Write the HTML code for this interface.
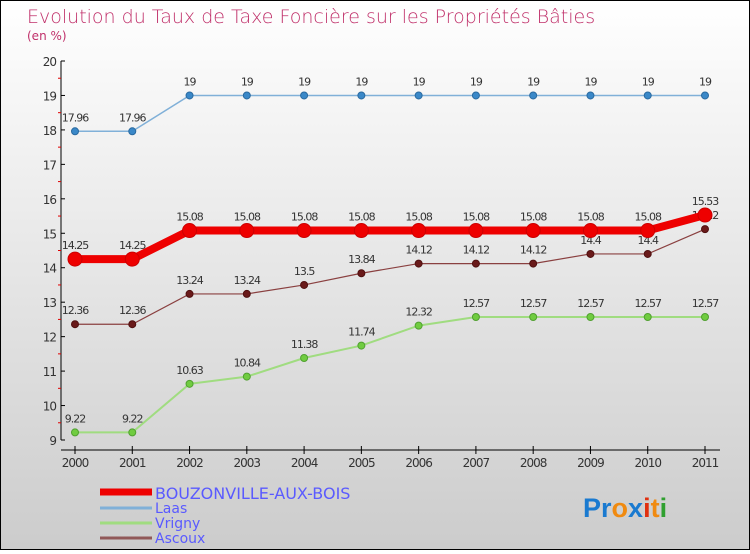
<!DOCTYPE html>
<html><head><meta charset="utf-8"><style>
body{margin:0}
#c{width:750px;height:550px;position:relative;font-family:"DejaVu Sans","Liberation Sans",sans-serif}
</style></head><body>
<div id="c">
<svg id="s" width="750" height="550" xmlns="http://www.w3.org/2000/svg">
<defs><linearGradient id="bg" x1="0" y1="0" x2="0" y2="1"><stop offset="0" stop-color="#ffffff"/><stop offset="1" stop-color="#cccccc"/></linearGradient></defs>
<rect x="0.5" y="0.5" width="749" height="549" fill="url(#bg)" stroke="#000"/>
<text x="27" y="23" font-size="19" fill="#c0306a" font-weight="200">Evolution du Taux de Taxe Foncière sur les Propriétés Bâties</text>
<text x="27" y="40" font-size="12" fill="#c0306a">(en %)</text>
<g id="axes"></g><g id="series"></g><g id="legend"></g>
<text x="583" y="517" font-size="27" font-weight="bold" font-family="Liberation Sans,sans-serif"><tspan fill="#1a7ad0">Pr</tspan><tspan fill="#f08a10">o</tspan><tspan fill="#1a7ad0">x</tspan><tspan fill="#e03010">i</tspan><tspan fill="#f08a10">t</tspan><tspan fill="#30a030">i</tspan></text>
</svg></div>
<script>
const years=[2000,2001,2002,2003,2004,2005,2006,2007,2008,2009,2010,2011];
const yTicks=[9,10,11,12,13,14,15,16,17,18,19,20];
const bouzonville=[14.25,14.25,15.08,15.08,15.08,15.08,15.08,15.08,15.08,15.08,15.08,15.53];
const laas=[17.96,17.96,19,19,19,19,19,19,19,19,19,19];
const vrigny=[9.22,9.22,10.63,10.84,11.38,11.74,12.32,12.57,12.57,12.57,12.57,12.57];
const ascoux=[12.36,12.36,13.24,13.24,13.5,13.84,14.12,14.12,14.12,14.4,14.4,15.12];
const NS="http://www.w3.org/2000/svg";
const X=i=>75+i*(630/11);
const Y=v=>440-(v-9)*(379/11);
function mk(t,a,p){const e=document.createElementNS(NS,t);for(const k in a)e.setAttribute(k,a[k]);p.appendChild(e);return e;}
const ax=document.getElementById('axes');
let l=mk('line',{x1:61,y1:61,x2:61,y2:440,stroke:'#000'},ax);


l=mk('line',{x1:61,y1:450,x2:720,y2:450,stroke:'#000'},ax);


yTicks.forEach(v=>{mk('line',{x1:61,x2:65,y1:Y(v),y2:Y(v),stroke:'#000'},ax);
 if(v<20)mk('line',{x1:58,x2:61,y1:Y(v+0.5),y2:Y(v+0.5),stroke:'#e00000'},ax);
 const t=mk('text',{x:56,y:Y(v)+5,'text-anchor':'end','font-size':12,fill:'#333','letter-spacing':'-1'},ax);t.textContent=v;
 
 });
years.forEach((y,i)=>{mk('line',{x1:X(i),x2:X(i),y1:446,y2:454,stroke:'#000'},ax);
 const t=mk('text',{x:X(i),y:467,'text-anchor':'middle','font-size':12,fill:'#333','letter-spacing':'-1'},ax);t.textContent=y;
 
 });
const sg=document.getElementById('series');
function series(name,vals,col,w,r,dot,stroke){
 const g=mk('g',{},sg);
 
 
 mk('polyline',{points:vals.map((v,i)=>X(i)+','+Y(v)).join(' '),fill:'none',stroke:col,'stroke-width':w},g);
 vals.forEach((v,i)=>{const c=mk('circle',{cx:X(i),cy:Y(v),r:r,fill:dot,stroke:stroke,'stroke-width':1},g);
  
  
  const t=mk('text',{x:X(i),y:Y(v)-10,'text-anchor':'middle','font-size':11,fill:'#333','letter-spacing':'-1'},g);t.textContent=v;
  
  });
}
series('laas',laas,'#80b0d8',1.5,3.5,'#3a88c8','#2a6aa0');
series('vrigny',vrigny,'#a0dc80',2,3.5,'#70cc40','#50a030');
series('ascoux',ascoux,'#8a4040',1.2,3.5,'#6a1a1a','#501010');
series('bouzonville',bouzonville,'#ee0000',8,7,'#ee0000','#cc0000');
const lg=document.getElementById('legend');
const items=[['BOUZONVILLE-AUX-BOIS','#ee0000',7,16,492,499],['Laas','#80b0d8',3,14,508,513],['Vrigny','#a0dc80',3,14,523,528],['Ascoux','#905858',3,14,538,543]];
items.forEach(it=>{const g=mk('g',{},lg);
 
 
 mk('line',{x1:100,x2:152,y1:it[4],y2:it[4],stroke:it[1],'stroke-width':it[2]},g);
 const t=mk('text',{x:155,y:it[5],'font-size':it[3],fill:'#5a5aff'},g);t.textContent=it[0];});
</script></body></html>
